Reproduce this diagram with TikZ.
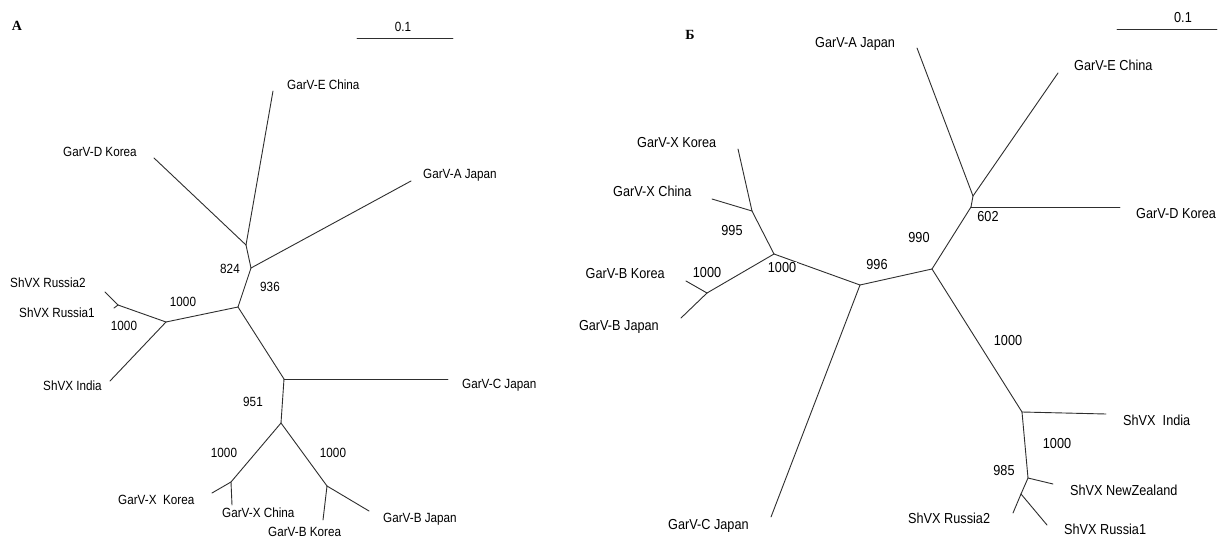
\documentclass[tikz,border=0pt]{standalone}
\usepackage{fontspec}
\setmainfont{Liberation Sans}
\newfontfamily\panelfont{Liberation Serif}
% labels are set slightly taller than wide
\newcommand{\tl}[1]{\scalebox{1}[1.14]{#1}}
\begin{document}
\begin{tikzpicture}[x=1pt,y=-1pt,
  branch/.style={draw=black!82,line width=0.9pt,line cap=round},
  lbA/.style={inner sep=0pt,text height=0.82em,text depth=0pt,font=\fontsize{11.7}{12}\selectfont},
  lbB/.style={inner sep=0pt,text height=0.82em,text depth=0pt,font=\fontsize{12.7}{13}\selectfont},
  cover/.style={fill=white,inner xsep=1pt,inner ysep=4.5pt},
  panel/.style={inner sep=0pt,font=\panelfont\bfseries\fontsize{14}{15}\selectfont}]
\useasboundingbox[fill=white] (0,0) rectangle (1219,538);

% ---------------- Panel A ----------------
\node[panel] (pA) at (17,26) {А};
\coordinate (sa1) at (357,38); \coordinate (sa2) at (453,38);
\draw[branch] (sa1) -- (sa2);
\node[lbA] (sca) at (403,27) {\tl{0.1}};

% internal nodes
\coordinate (a1) at (246,245);
\coordinate (a2) at (251,268);
\coordinate (a3) at (238,307);
\coordinate (a4) at (166,322);
\coordinate (a5) at (118,305);
\coordinate (a6) at (284,379);
\coordinate (a7) at (281,423);
\coordinate (a8) at (231,482);
\coordinate (a9) at (327,486);
% leaves
\coordinate (aE) at (273,91);
\coordinate (aD) at (154,158);
\coordinate (aA) at (411,181);
\coordinate (aR2) at (105,292);
\coordinate (aR1) at (114,308);
\coordinate (aI) at (110,381);
\coordinate (aC) at (448,379);
\coordinate (aXK) at (212,493);
\coordinate (aXC) at (232,505);
\coordinate (aBK) at (323,520);
\coordinate (aBJ) at (369,511);

\draw[branch] (aD) -- (a1);
\draw[branch] (aE) -- (a1);
\draw[branch] (a1) -- (a2);
\draw[branch] (a2) -- (aA);
\draw[branch] (a2) -- (a3);
\draw[branch] (a3) -- (a4);
\draw[branch] (a4) -- (a5);
\draw[branch] (a5) -- (aR2);
\draw[branch] (a5) -- (aR1);
\draw[branch] (a4) -- (aI);
\draw[branch] (a3) -- (a6);
\draw[branch] (a6) -- (aC);
\draw[branch] (a6) -- (a7);
\draw[branch] (a7) -- (a8);
\draw[branch] (a8) -- (aXK);
\draw[branch] (a8) -- (aXC);
\draw[branch] (a7) -- (a9);
\draw[branch] (a9) -- (aBK);
\draw[branch] (a9) -- (aBJ);

\node[lbA,anchor=west] (tAE) at (287,85) {\tl{GarV-E China}};
\node[lbA,anchor=west] (tAD) at (63,152) {\tl{GarV-D Korea}};
\node[lbA,anchor=west] (tAA) at (423,174) {\tl{GarV-A Japan}};
\node[lbA,anchor=west] (tAR2) at (10,283) {\tl{ShVX Russia2}};
\node[lbA,anchor=west] (tAR1) at (19,313) {\tl{ShVX Russia1}};
\node[lbA,anchor=west] (tAI) at (43,386) {\tl{ShVX India}};
\node[lbA,anchor=west] (tAC) at (462,384) {\tl{GarV-C Japan}};
\node[lbA,anchor=west] (tAXK) at (118,500) {\tl{GarV-X\ \ Korea}};
\node[lbA,anchor=west] (tAXC) at (222,513) {\tl{GarV-X China}};
\node[lbA,anchor=west] (tABK) at (268,532) {\tl{GarV-B Korea}};
\node[lbA,anchor=west] (tABJ) at (383,518) {\tl{GarV-B Japan}};

\node[lbA] (bsA1) at (230,269) {\tl{824}};
\node[lbA] (bsA2) at (270,287) {\tl{936}};
\node[lbA] (bsA3) at (183,302) {\tl{1000}};
\node[lbA] (bsA4) at (124,326) {\tl{1000}};
\node[lbA] (bsA5) at (253,402) {\tl{951}};
\node[lbA] (bsA6) at (224,453) {\tl{1000}};
\node[lbA] (bsA7) at (333,453) {\tl{1000}};

% ---------------- Panel B ----------------
\node[panel] (pB) at (690,35) {Б};
\coordinate (sb1) at (1117,29); \coordinate (sb2) at (1217,29);
\draw[branch] (sb1) -- (sb2);
\node[lbB] (scb) at (1183,18) {\tl{0.1}};

% internal nodes
\coordinate (b1) at (973,196);
\coordinate (b2) at (971,207);
\coordinate (b3) at (932,269);
\coordinate (b4) at (860,285);
\coordinate (b5) at (774,254);
\coordinate (b6) at (752,211);
\coordinate (b7) at (707,293);
\coordinate (b8) at (1022,412);
\coordinate (b9) at (1028,478);
\coordinate (b10) at (1021,494);
% leaves
\coordinate (bA) at (917,48);
\coordinate (bE) at (1058,73);
\coordinate (bD) at (1120,207);
\coordinate (bXK) at (738,149);
\coordinate (bXC) at (712,199);
\coordinate (bBK) at (686,281);
\coordinate (bBJ) at (681,318);
\coordinate (bC) at (771,517);
\coordinate (bI) at (1106,414);
\coordinate (bNZ) at (1053,484);
\coordinate (bR2) at (1013,513);
\coordinate (bR1) at (1047,525);

\draw[branch] (bA) -- (b1);
\draw[branch] (bE) -- (b1);
\draw[branch] (b1) -- (b2);
\draw[branch] (b2) -- (bD);
\draw[branch] (b2) -- (b3);
\draw[branch] (b3) -- (b4);
\draw[branch] (b4) -- (b5);
\draw[branch] (b5) -- (b6);
\draw[branch] (b6) -- (bXK);
\draw[branch] (b6) -- (bXC);
\draw[branch] (b5) -- (b7);
\draw[branch] (b7) -- (bBK);
\draw[branch] (b7) -- (bBJ);
\draw[branch] (b4) -- (bC);
\draw[branch] (b3) -- (b8);
\draw[branch] (b8) -- (bI);
\draw[branch] (b8) -- (b9);
\draw[branch] (b9) -- (bNZ);
\draw[branch] (b9) -- (b10);
\draw[branch] (b10) -- (bR2);
\draw[branch] (b10) -- (bR1);

\node[lbB,anchor=west] (tBA) at (815,43) {\tl{GarV-A Japan}};
\node[lbB,anchor=west] (tBE) at (1074,66) {\tl{GarV-E China}};
\node[lbB,anchor=west] (tBD) at (1136,214) {\tl{GarV-D Korea}};
\node[lbB,anchor=west] (tBXK) at (637,143) {\tl{GarV-X Korea}};
\node[lbB,anchor=west] (tBXC) at (613,192) {\tl{GarV-X China}};
\node[lbB,anchor=east] (tBBK) at (665,274) {\tl{GarV-B Korea}};
\node[lbB,anchor=east] (tBBJ) at (659,326) {\tl{GarV-B Japan}};
\node[lbB,anchor=west] (tBC) at (668,525) {\tl{GarV-C Japan}};
\node[lbB,anchor=west] (tBI) at (1123,421) {\tl{ShVX\ \ India}};
\node[lbB,anchor=west] (tBNZ) at (1070,491) {\tl{ShVX NewZealand}};
\node[lbB,anchor=west] (tBR2) at (908,519) {\tl{ShVX Russia2}};
\node[lbB,anchor=west] (tBR1) at (1064,530) {\tl{ShVX Russia1}};

\node[lbB,cover] (bsB1) at (988,217) {\tl{602}};
\node[lbB] (bsB2) at (919,238) {\tl{990}};
\node[lbB] (bsB3) at (877,265) {\tl{996}};
\node[lbB] (bsB4) at (732,231) {\tl{995}};
\node[lbB,cover,inner ysep=2pt] (bsB5) at (782,268) {\tl{1000}};
\node[lbB] (bsB6) at (707,273) {\tl{1000}};
\node[lbB] (bsB7) at (1008,341) {\tl{1000}};
\node[lbB] (bsB8) at (1057,444) {\tl{1000}};
\node[lbB] (bsB9) at (1004,471) {\tl{985}};
\end{tikzpicture}
\end{document}
